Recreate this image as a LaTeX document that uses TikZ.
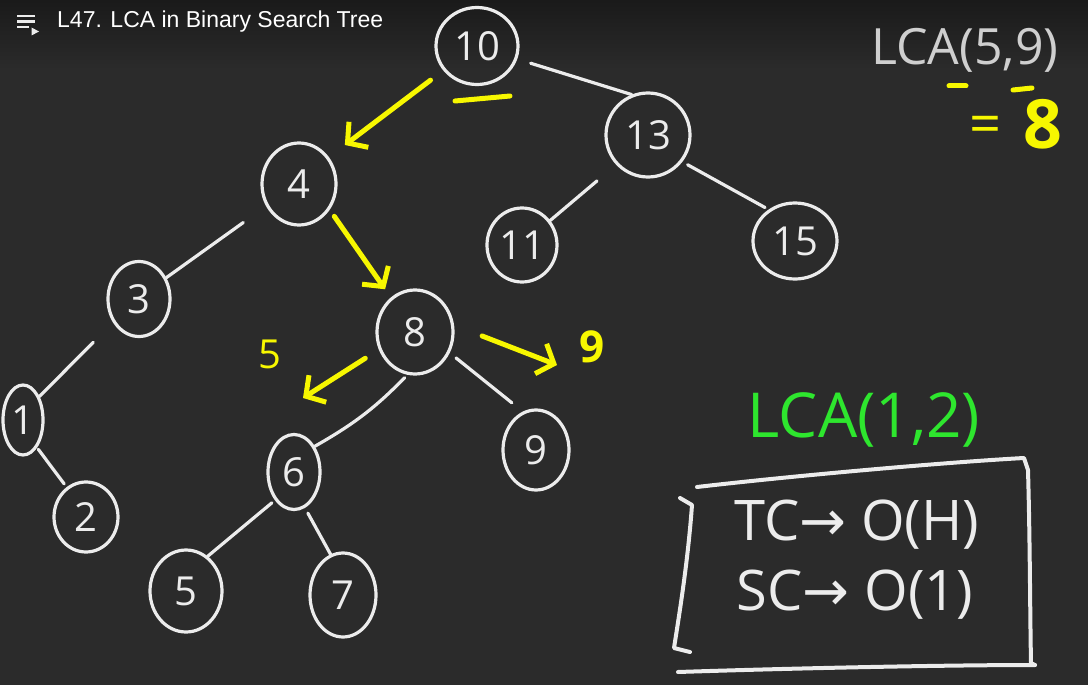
\documentclass[tikz,border=0pt]{standalone}
\usepackage{fontspec}
\setmainfont{Open Sans}
\newfontfamily\titlefont{Liberation Sans}
\newfontfamily\symfont{DejaVu Sans}
\usetikzlibrary{shapes.geometric,arrows.meta}
\definecolor{bg}{HTML}{2B2B2B}
\definecolor{bgtop}{HTML}{1A1A1A}
\definecolor{chalk}{HTML}{ECECEC}
\definecolor{hl}{HTML}{F7F700}
\definecolor{grn}{HTML}{2EE62E}
\definecolor{gry}{HTML}{CFCFCF}
\tikzset{
  nd/.style={ellipse, draw=chalk, line width=3.2pt, inner sep=0pt, text=chalk, font=\fontsize{40}{40}\selectfont},
  edge/.style={draw=chalk, line width=3.2pt, line cap=round},
  yarrow/.style={draw=hl, line width=5pt, line cap=round, line join=round, -{Straight Barb[length=14pt,width=32pt]}},
  ymark/.style={draw=hl, line width=5pt, line cap=round},
  handtxt/.style={inner sep=0pt, font=\fontsize{32}{34}\selectfont},
  boxline/.style={draw=chalk, line width=4pt, line cap=round, line join=round}
}
\begin{document}
\begin{tikzpicture}[x=1pt,y=-1pt]
\useasboundingbox (0,0) rectangle (1088,685);
\fill[bg] (0,0) rectangle (1088,685);
\shade[top color=bgtop,bottom color=bg] (0,0) rectangle (1088,70);
% title bar
\fill[chalk] (17,15) rectangle (35,17.5);
\fill[chalk] (17,20.5) rectangle (35,23);
\fill[chalk] (17,26) rectangle (29,28.5);
\fill[chalk] (31.5,27.5) -- (39,31.5) -- (31.5,35.5) -- cycle;
\node[anchor=west, text=white, inner sep=0pt, font=\titlefont\fontsize{23}{23}\selectfont] (title) at (57,22) {L47. LCA in Binary Search Tree};
% nodes
\node[nd, minimum width=82pt, minimum height=77pt] (n10) at (477,46) {10};
\node[nd, minimum width=84pt, minimum height=84pt] (n13) at (648,135) {13};
\node[nd, minimum width=74pt, minimum height=82pt] (n4) at (299,184) {4};
\node[nd, minimum width=70pt, minimum height=74pt] (n11) at (522,245) {11};
\node[nd, minimum width=84pt, minimum height=76pt] (n15) at (795,241) {15};
\node[nd, minimum width=62pt, minimum height=75pt] (n3) at (139,299) {3};
\node[nd, minimum width=76pt, minimum height=84pt] (n8) at (415,332) {8};
\node[nd, minimum width=40pt, minimum height=70pt] (n1) at (23,420) {1};
\node[nd, minimum width=66pt, minimum height=80pt] (n9) at (536,450) {9};
\node[nd, minimum width=52pt, minimum height=75pt] (n6) at (294,472) {6};
\node[nd, minimum width=64pt, minimum height=70pt] (n2) at (86,517) {2};
\node[nd, minimum width=72pt, minimum height=82pt] (n5) at (186,591) {5};
\node[nd, minimum width=66pt, minimum height=84pt] (n7) at (343,595) {7};
% edges
\draw[edge, shorten <=14pt] (n10.-18) -- (n13.112);
\draw[edge, shorten <=28pt] (n4.214) -- (n3.38);
\draw[edge, shorten <=25pt] (n13.223) -- (n11.41);
\draw[edge, shorten <=6pt, shorten >=4pt] (n13.-38) -- (n15.130);
\draw[edge, shorten <=28pt] (n3.222) -- (n1.55);
\draw[edge, shorten <=2pt, shorten >=4pt] (n1.-63) -- (n2.123);
\draw[edge, shorten <=4pt] (n8.-100) to[bend left=8] (n6.51);
\draw[edge, shorten <=8pt, shorten >=14pt] (n8.-31) -- (n9.109);
\draw[edge, shorten <=4pt] (n6.236) -- (n5.58);
\draw[edge, shorten <=6pt] (n6.-73) -- (n7.107);
% yellow path
\draw[yarrow, shorten <=16pt, shorten >=20pt] (n10.216) -- (n4.42);
\draw[ymark] (455,101) -- (510,96);
\draw[yarrow, shorten <=8pt, shorten >=10pt] (n4.-40) -- (n8.125);
\coordinate (a5) at (303,398);
\coordinate (a9) at (557,365);
\draw[yarrow, shorten <=16pt] (n8.206) -- (a5);
\draw[yarrow, shorten <=30pt] (n8.10) -- (a9);
\node[handtxt, text=hl, font=\fontsize{40}{40}\selectfont] (l5) at (270,354) {5};
\node[handtxt, text=hl, font=\bfseries\fontsize{44}{44}\selectfont] (l9) at (592,347) {9};
% LCA(5,9) = 8
\node[handtxt, text=gry, font=\fontsize{50}{50}\selectfont] (q1) at (965,50) {LCA(5,9)};
\draw[ymark] (949,86) -- (966,86);
\draw[ymark] (1013,90) -- (1032,88);
\node[handtxt, text=hl, font=\fontsize{56}{56}\selectfont] (eq) at (986,130) {=};
\node[handtxt, text=hl, font=\bfseries\fontsize{68}{68}\selectfont] (e8) at (1043,124) {8};
% LCA(1,2)
\node[handtxt, text=grn, font=\fontsize{62}{62}\selectfont] (q2) at (864,420) {LCA(1,2)};
% complexity box
\draw[boxline] (697,487) .. controls (800,475) and (950,462) .. (1024,458) -- (1028,470) .. controls (1030,540) and (1030,610) .. (1031,663) -- (1035,665);
\draw[boxline] (678,672) .. controls (800,668) and (950,665) .. (1035,665);
\draw[boxline] (680,498) -- (692,505) .. controls (688,560) and (680,610) .. (674,648) -- (690,652);
\node[handtxt, text=chalk, font=\fontsize{56}{56}\selectfont] (tc) at (857,525) {TC{\symfont →} O(H)};
\node[handtxt, text=chalk, font=\fontsize{56}{56}\selectfont] (sc) at (855,595) {SC{\symfont →} O(1)};
\end{tikzpicture}
\end{document}
